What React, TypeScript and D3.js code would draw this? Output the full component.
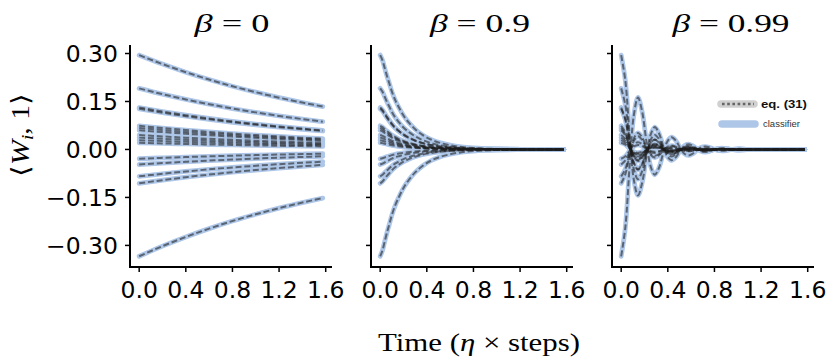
import React from "react";
import * as d3 from "d3";

// ---- data ----
const betaLabels = ["0", "0.9", "0.99"];
// starting values <W_i, 1> of every weight (same in all panels)
const initialWeights = [
  0.295, 0.191, 0.131, 0.127, 0.074, 0.067, 0.06, 0.045, 0.037, 0.029, 0.021,
  -0.029, -0.047, -0.084, -0.106, -0.334,
];
// relative trajectory (value / initial value)
const timesBeta0 = [0, 0.2, 0.4, 0.6, 0.8, 1.0, 1.2, 1.4, 1.575];
const profileBeta0 = [1, 0.905, 0.819, 0.741, 0.67, 0.607, 0.549, 0.497, 0.455];
const timesBeta09 = [
  0, 0.02, 0.04, 0.06, 0.08, 0.1, 0.13, 0.16, 0.2, 0.25, 0.3, 0.36, 0.43, 0.5,
  0.6, 0.7, 0.8, 0.9, 1.0, 1.2, 1.4, 1.575,
];
const profileBeta09 = [
  1, 0.944, 0.856, 0.771, 0.694, 0.615, 0.52, 0.447, 0.36, 0.279, 0.215, 0.157,
  0.108, 0.075, 0.045, 0.026, 0.0155, 0.0092, 0.0054, 0.0019, 0.0006, 0.0003,
];
const timesBeta099 = [
  0, 0.036, 0.072, 0.108, 0.144, 0.18, 0.216, 0.252, 0.288, 0.324, 0.36, 0.396,
  0.432, 0.468, 0.504, 0.54, 0.576, 0.612, 0.648, 0.684, 0.72, 0.756, 0.792,
  0.828, 0.864, 0.9, 0.936, 0.972, 1.008, 1.044, 1.08, 1.2, 1.4, 1.575,
];
const profileBeta099 = [
  1, 0.726, 0.16, -0.318, -0.487, -0.353, -0.078, 0.155, 0.237, 0.172, 0.038,
  -0.075, -0.115, -0.084, -0.018, 0.037, 0.056, 0.041, 0.009, -0.018, -0.027,
  -0.02, -0.004, 0.009, 0.013, 0.01, 0.002, -0.004, -0.0065, -0.005, -0.001, 0,
  0, 0,
];
const xTicks = [0, 0.4, 0.8, 1.2, 1.6];
const yTicks = [-0.3, -0.15, 0, 0.15, 0.3];
const legendLabels = ["eq. (31)", "classifier"];

// ---- layout ----
const W = 830;
const H = 361;
const panelLefts = [130, 371, 612];
const panelWidth = 202;
const plotTop = 45;
const plotBottom = 267;
const titleX = [232, 480, 731];
const titleW = [75, 100, 117];

const panels = [
  { times: timesBeta0, profile: profileBeta0 },
  { times: timesBeta09, profile: profileBeta09 },
  { times: timesBeta099, profile: profileBeta099 },
];

const blue = "#aec7e8";
const dashColor = "#1e1e1e";
const serif = "'Liberation Serif', 'Times New Roman', serif";
const sans = "'DejaVu Sans', sans-serif";

export default function App() {
  const y = d3.scaleLinear().domain([-0.3675, 0.3266]).range([plotBottom, plotTop]);
  const fmtY = (v: number) => (v < 0 ? "\u2212" : "") + Math.abs(v).toFixed(2);

  return (
    <svg width={W} height={H} style={{ display: "block", position: "absolute", left: 0, top: 0, background: "#fff" }}>
      {panels.map((p, pi) => {
        const left = panelLefts[pi];
        const x = d3.scaleLinear().domain([-0.0788, 1.654]).range([left, left + panelWidth]);
        const curve = pi === 2 ? d3.curveCatmullRom.alpha(0.5) : d3.curveMonotoneX;
        const line = d3
          .line<[number, number]>()
          .x((d) => x(d[0]))
          .y((d) => y(d[1]))
          .curve(curve);
        const series = initialWeights.map((w0) =>
          p.times.map((t, k) => [t, w0 * p.profile[k]] as [number, number])
        );
        return (
          <g key={pi}>
            {series.map((s, i) => (
              <path key={"b" + i} d={line(s) || ""} fill="none" stroke={blue} strokeWidth={4.8} strokeLinecap="round" />
            ))}
            {series.map((s, i) => (
              <path key={"d" + i} d={line(s) || ""} fill="none" stroke={dashColor} strokeOpacity={0.58} strokeWidth={2} strokeDasharray="6 2.8" />
            ))}
            {/* spines */}
            <line x1={left} x2={left} y1={plotTop} y2={plotBottom + 1} stroke="#000" strokeWidth={2} />
            <line x1={left - 1} x2={left + panelWidth} y1={plotBottom} y2={plotBottom} stroke="#000" strokeWidth={2} />
            {/* y ticks */}
            {yTicks.map((v) => (
              <g key={"y" + v}>
                <line x1={left - 5} x2={left} y1={y(v)} y2={y(v)} stroke="#000" strokeWidth={1.5} />
                {pi === 0 && (
                  <text x={left - 12} y={y(v) + 8.5} textAnchor="end" fontFamily={sans} fontSize={23.5} fill="#000">
                    {fmtY(v)}
                  </text>
                )}
              </g>
            ))}
            {/* x ticks */}
            {xTicks.map((v) => (
              <g key={"x" + v}>
                <line x1={x(v)} x2={x(v)} y1={plotBottom} y2={plotBottom + 5} stroke="#000" strokeWidth={1.5} />
                <text x={x(v)} y={298} textAnchor="middle" fontFamily={sans} fontSize={23.5} fill="#000">
                  {v.toFixed(1)}
                </text>
              </g>
            ))}
            {/* title */}
            <text x={titleX[pi]} y={32} textAnchor="middle" fontFamily={serif} fontSize={26} fill="#000"
              textLength={titleW[pi]} lengthAdjust="spacingAndGlyphs">
              <tspan fontStyle="italic">β</tspan>
              <tspan> = {betaLabels[pi]}</tspan>
            </text>
          </g>
        );
      })}

      {/* y label */}
      <text transform="translate(29,135) rotate(-90)" textAnchor="middle" fontFamily={serif} fontSize={25} fill="#000"
        textLength={84} lengthAdjust="spacingAndGlyphs">
        <tspan>⟨</tspan>
        <tspan fontStyle="italic">W</tspan>
        <tspan fontStyle="italic" fontSize={17} dy={4}>i</tspan>
        <tspan dy={-4}>, 1⟩</tspan>
      </text>

      {/* x label */}
      <text x={479} y={351} textAnchor="middle" fontFamily={serif} fontSize={25} fill="#000"
        textLength={202} lengthAdjust="spacingAndGlyphs">
        <tspan>Time (</tspan>
        <tspan fontStyle="italic">η</tspan>
        <tspan> × steps)</tspan>
      </text>

      {/* legend */}
      <g>
        <line x1={721} x2={754} y1={104} y2={104} stroke="#d0d0d0" strokeWidth={7.5} strokeLinecap="round" />
        <line x1={722} x2={754} y1={104} y2={104} stroke="#666" strokeWidth={2.6} strokeDasharray="2.6 2.6" />
        <text x={761} y={108} fontFamily="'Liberation Sans', Arial, sans-serif" fontWeight="bold" fontSize={11.5} fill="#111"
          textLength={46} lengthAdjust="spacingAndGlyphs">
          {legendLabels[0]}
        </text>
        <line x1={722} x2={755} y1={124} y2={124} stroke={blue} strokeWidth={7.5} strokeLinecap="round" />
        <text x={763} y={127} fontFamily="'Liberation Sans', Arial, sans-serif" fontSize={9} fill="#333"
          textLength={37} lengthAdjust="spacingAndGlyphs">
          {legendLabels[1]}
        </text>
      </g>
    </svg>
  );
}
